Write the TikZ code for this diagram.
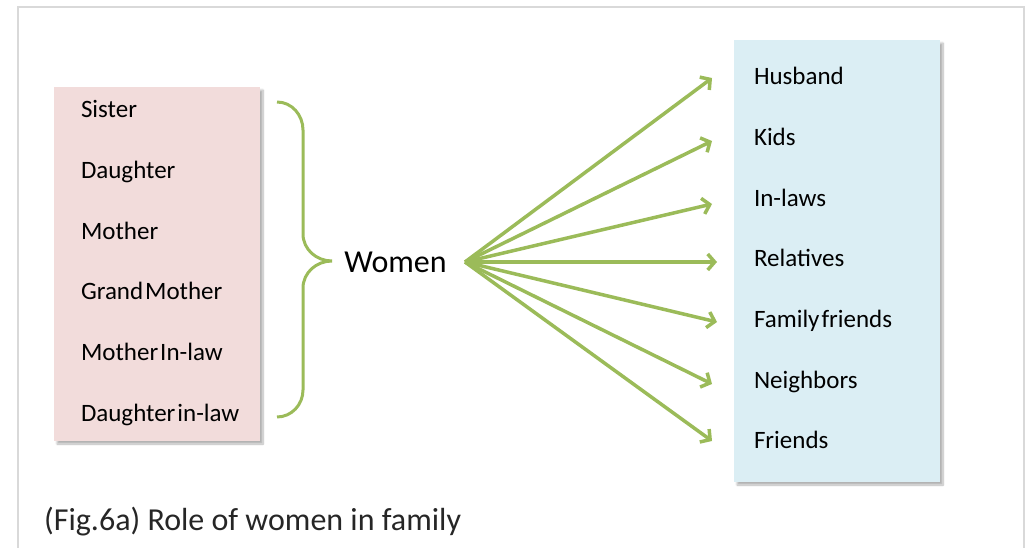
\documentclass[tikz,border=0pt]{standalone}
\usepackage{fontspec}
\setmainfont{Carlito}
\newfontfamily\listfont{Carlito}[WordSpace=0.35]
\usetikzlibrary{positioning,arrows.meta,shadows.blur}
\definecolor{rolepink}{HTML}{F2DCDB}
\definecolor{tieblue}{HTML}{DBEEF4}
\definecolor{leafgreen}{HTML}{9BBB59}
\definecolor{framegray}{HTML}{D9D9D9}
\definecolor{captiongray}{HTML}{262626}
\begin{document}
\begin{tikzpicture}[x=1pt, y=-1pt, node distance={60.6pt},
    panel/.style = {minimum width=206pt, inner sep=0pt, blur shadow={shadow xshift=3pt, shadow yshift=-3pt, shadow blur steps=8, shadow opacity=30}},
    item/.style = {text width=170pt, align=flush left, inner sep=0pt, text height=16pt, text depth=0pt, font=\listfont\fontsize{25}{30}\selectfont},
    link/.style = {leafgreen, line width=3.5pt, -{Straight Barb[length=7pt, width=16pt, line width=3.5pt]}}]
    \useasboundingbox (0,0) rectangle (1031,548);
    \draw[framegray, line width=2.5pt] (18,548) -- (18,7) -- (1024,7) -- (1024,548);
    % the two lists
    \node[panel, fill=rolepink, minimum height=354pt] (roles) at (157,264) {};
    \node[panel, fill=tieblue, minimum height=442pt] (ties) at (837,261) {};
    \node[item] (r1) at (166,110) {Sister};
    \node[item] (r2) [below of=r1] {Daughter};
    \node[item] (r3) [below of=r2] {Mother};
    \node[item] (r4) [below of=r3] {Grand Mother};
    \node[item] (r5) [below of=r4] {Mother In-law};
    \node[item] (r6) [below of=r5] {Daughter in-law};
    \node[item] (t1) at (839,77) {Husband};
    \node[item] (t2) [below of=t1] {Kids};
    \node[item] (t3) [below of=t2] {In-laws};
    \node[item] (t4) [below of=t3] {Relatives};
    \node[item] (t5) [below of=t4] {Family friends};
    \node[item] (t6) [below of=t5] {Neighbors};
    \node[item] (t7) [below of=t6] {Friends};
    % brace and centre word
    \draw[leafgreen, line width=3pt] (277,102) to[out=0, in=90] (303,130) -- (303,234)
        to[out=-90, in=180] (332,261) to[out=180, in=90] (303,288) -- (303,390)
        to[out=-90, in=0] (277,417);
    \node[inner sep=0pt, text height=20.6pt, text depth=0pt, font=\fontsize{32}{38}\selectfont] (women) at (395.5,262) {Women};
    \coordinate (hub) at (465,262);
    \coordinate (e1) at (712,78);
    \coordinate (e2) at (712,141);
    \coordinate (e3) at (712,204);
    \coordinate (e4) at (717,262);
    \coordinate (e5) at (717,322);
    \coordinate (e6) at (712,384);
    \coordinate (e7) at (712,441);
    \draw[link] (hub) -- (e1);
    \draw[link] (hub) -- (e2);
    \draw[link] (hub) -- (e3);
    \draw[link] (hub) -- (e4);
    \draw[link] (hub) -- (e5);
    \draw[link] (hub) -- (e6);
    \draw[link] (hub) -- (e7);
    \node[anchor=base west, inner sep=0pt, text=captiongray, font=\fontsize{32}{38}\selectfont] (caption) at (44,530) {(Fig.6a) Role of women in family};
\end{tikzpicture}
\end{document}
